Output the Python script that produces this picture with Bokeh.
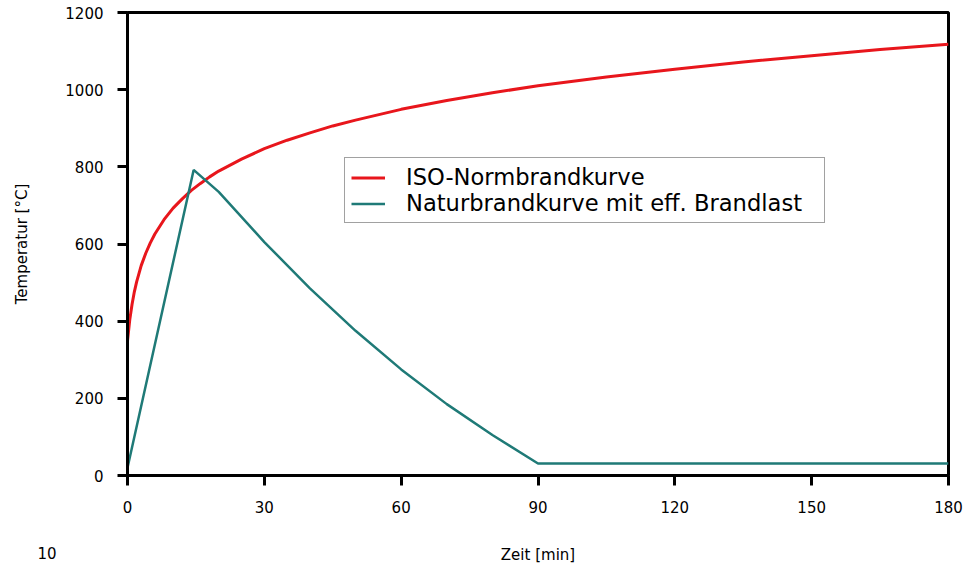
from bokeh.plotting import figure
from bokeh.models import Legend, LegendItem, FixedTicker, Label, Range1d
from bokeh.embed import file_html
from bokeh.resources import INLINE

# ISO-Normbrandkurve
iso_t = [0, 0.5, 1, 1.5, 2, 3, 4, 5, 6, 8, 10, 12, 14, 16, 18, 20, 25, 30, 35, 40, 45, 50,
         60, 70, 80, 90, 105, 120, 135, 150, 165, 180]
iso_temp = [349, 404, 444, 476, 502, 544, 576, 603, 626, 663, 693, 717, 739, 757, 774, 789, 820, 847, 869, 888, 906, 921,
            949, 972, 992, 1010, 1033, 1053, 1072, 1088, 1104, 1118]

# Naturbrandkurve mit eff. Brandlast
nat_t = [0, 14.5, 20, 30, 40, 50, 60, 70, 80, 90, 180]
nat_temp = [20, 792, 735, 605, 485, 375, 275, 185, 105, 31, 31]

x_ticks = [0, 30, 60, 90, 120, 150, 180]
y_ticks = [0, 200, 400, 600, 800, 1000, 1200]

label_iso = "ISO-Normbrandkurve"
label_nat = "Naturbrandkurve mit eff. Brandlast"
page_number = "10"

FONT = "DejaVu Sans"
W, H = 970, 566

p = figure(width=W, height=H, output_backend="svg", toolbar_location=None,
           x_range=Range1d(0, 180), y_range=Range1d(0, 1200),
           min_border_left=127, min_border_right=22, min_border_top=12, min_border_bottom=89)
p.background_fill_color = "white"
p.border_fill_color = "white"
p.grid.visible = False
p.outline_line_color = "black"
p.outline_line_width = 3

r_iso = p.line(iso_t, iso_temp, line_color="#e8161c", line_width=3)
r_nat = p.line(nat_t, nat_temp, line_color="#1f7a77", line_width=2.5)

for ax in (p.xaxis[0], p.yaxis[0]):
    ax.axis_line_width = 3
    ax.major_tick_line_width = 3
    ax.major_tick_out = 10
    ax.major_tick_in = 0
    ax.minor_tick_out = 0
    ax.minor_tick_in = 0
    ax.major_label_text_font = FONT
    ax.major_label_text_font_size = "15px"
    ax.major_label_text_color = "black"
    ax.axis_label_text_font = FONT
    ax.axis_label_text_font_size = "15px"
    ax.axis_label_text_font_style = "normal"
    ax.axis_label_text_color = "black"

p.xaxis[0].ticker = FixedTicker(ticks=x_ticks)
p.yaxis[0].ticker = FixedTicker(ticks=y_ticks)
p.xaxis[0].major_label_standoff = 15
p.yaxis[0].major_label_standoff = 14
p.xaxis[0].axis_label = "Zeit [min]"
p.yaxis[0].axis_label = "Temperatur [°C]"
p.xaxis[0].axis_label_standoff = 30
p.yaxis[0].axis_label_standoff = 31

legend = Legend(items=[LegendItem(label=label_iso, renderers=[r_iso]),
                       LegendItem(label=label_nat, renderers=[r_nat])],
                location=(217, 252))
legend.label_text_font = FONT
legend.label_text_font_size = "22.6px"
legend.label_text_color = "black"
legend.border_line_color = "#444444"
legend.border_line_width = 1
legend.background_fill_color = "white"
legend.background_fill_alpha = 1
legend.padding = 6
legend.margin = 0
legend.spacing = 0
legend.label_height = 21
legend.label_width = 412
legend.glyph_height = 21
legend.glyph_width = 34
legend.label_standoff = 21
p.add_layout(legend, "center")

p.add_layout(Label(x=-911, y=-77, x_units="screen", y_units="screen", text=page_number,
                   text_font=FONT, text_font_size="15px", text_baseline="middle",
                   text_color="black"), "right")

open("out.html", "w").write(file_html(p, INLINE))
